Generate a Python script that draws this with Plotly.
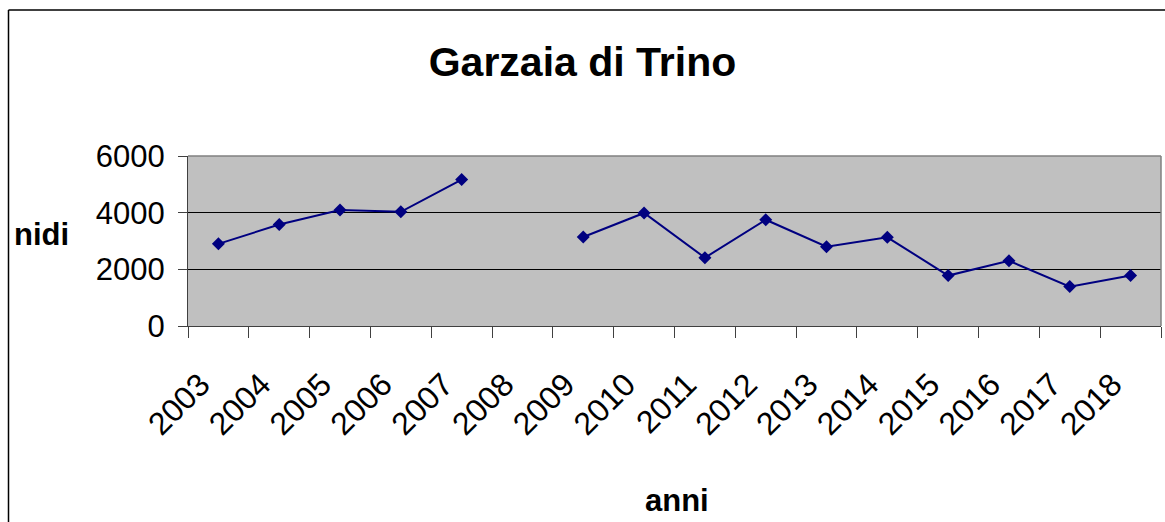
import plotly.graph_objects as go

years = ["2003", "2004", "2005", "2006", "2007", "2008", "2009", "2010",
         "2011", "2012", "2013", "2014", "2015", "2016", "2017", "2018"]
nidi = [2900, 3580, 4090, 4030, 5170, None, 3140, 3990,
        2410, 3750, 2800, 3130, 1780, 2300, 1390, 1780]
y_ticks = [0, 2000, 4000, 6000]

W, H = 1165, 522
L, R, T, B = 188, 4, 156, 196
pw, ph = W - L - R, H - T - B


def px_x(p):
    return (p - L) / pw


def px_y(p):
    return (H - B - p) / ph


FONT = "Liberation Sans, Arial, sans-serif"

fig = go.Figure()
fig.add_trace(go.Scatter(
    x=years, y=nidi, mode="lines+markers",
    line=dict(color="#000080", width=2),
    marker=dict(symbol="diamond", size=10, color="#000080"),
    connectgaps=False, showlegend=False, hoverinfo="x+y",
))

fig.update_layout(
    width=W, height=H,
    margin=dict(l=L, r=R, t=T, b=B, autoexpand=False),
    paper_bgcolor="white",
    plot_bgcolor="#C0C0C0",
    font=dict(family=FONT, color="black"),
    title=dict(text="Garzaia di Trino", x=0.5, xref="container", xanchor="center",
               y=1 - 62 / H, yref="container", yanchor="middle",
               font=dict(size=41, family=FONT, weight="bold", color="black")),
    xaxis=dict(
        type="category", categoryorder="array", categoryarray=years,
        tickson="boundaries", ticks="outside", ticklen=11, tickcolor="#404040",
        tickangle=-45, tickfont=dict(size=32, family=FONT, color="black"),
        showgrid=False, showline=True, linecolor="#404040", linewidth=1,
        range=[-0.5, len(years) - 0.5], ticklabelstandoff=26, ticklabelshift=-18,
    ),
    yaxis=dict(
        range=[0, 6000], tickvals=y_ticks, ticktext=[str(v) for v in y_ticks],
        ticks="outside", ticklen=9, tickcolor="#404040",
        tickfont=dict(size=31, family=FONT, color="black"),
        showgrid=True, gridcolor="black", gridwidth=1,
        showline=True, linecolor="#404040", linewidth=1,
        zeroline=False, ticklabelstandoff=7,
    ),
    shapes=[
        # grey plot-area border (top and right)
        dict(type="line", xref="paper", yref="paper", x0=0, x1=1, y0=1, y1=1,
             line=dict(color="#808080", width=1.5)),
        dict(type="line", xref="paper", yref="paper", x0=1, x1=1, y0=0, y1=1,
             line=dict(color="#808080", width=1.5)),
        # outer chart border
        dict(type="line", xref="paper", yref="paper", x0=px_x(8.5), x1=px_x(8.5),
             y0=px_y(10), y1=px_y(H + 5), line=dict(color="black", width=1.5)),
        dict(type="line", xref="paper", yref="paper", x0=px_x(8.5), x1=px_x(W + 5),
             y0=px_y(10), y1=px_y(10), line=dict(color="black", width=1.5)),
    ],
    annotations=[
        dict(text="nidi", xref="paper", yref="paper", x=px_x(41), y=px_y(234),
             xanchor="center", yanchor="middle", showarrow=False,
             font=dict(size=31, family=FONT, weight="bold", color="black")),
        dict(text="anni", xref="paper", yref="paper", x=px_x(677), y=px_y(500),
             xanchor="center", yanchor="middle", showarrow=False,
             font=dict(size=31, family=FONT, weight="bold", color="black")),
    ],
)

fig.write_html(
    "out.html",
    config={"displayModeBar": False},
    post_script="document.body.style.margin='0';document.body.style.overflow='hidden';",
)
